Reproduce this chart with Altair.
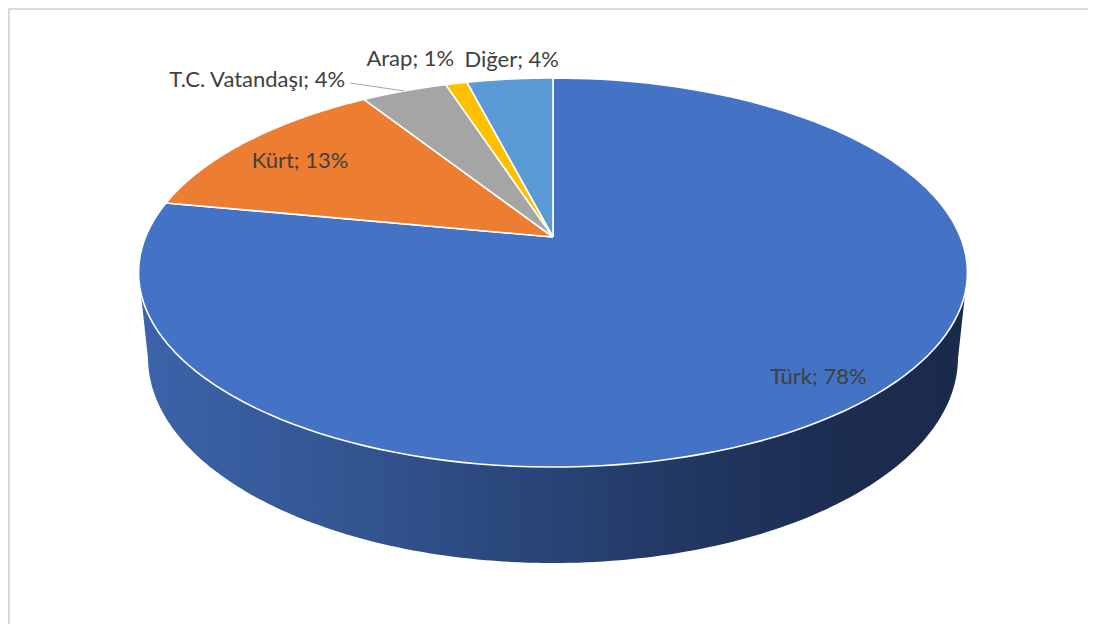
import altair as alt
import pandas as pd

# ---- data ----
categories = ["Türk", "Kürt", "T.C. Vatandaşı", "Arap", "Diğer"]
values = [78, 13, 4, 1, 4]
colors = ["#4472C4", "#ED7D31", "#A5A5A5", "#FFC000", "#5B9BD5"]
labels = ["Türk; 78%", "Kürt; 13%", "T.C. Vatandaşı; 4%", "Arap; 1%", "Diğer; 4%"]

# ---- style / 3-D view parameters ----
CX, CY = 553, 237            # pie centre on screen
F, D, S, C, H = 1979, 4.857, 0.4615, 0.8872, 0.2373   # focal, distance, sin/cos tilt, depth
N = 140                      # arc resolution
M = 160
W, HT = 1080, 616
FONT = "Lato"
FS = 22
TXT = "#404040"

df = pd.DataFrame({"cat": categories, "value": values, "label": labels,
                   "k": list(range(len(categories)))})

xs = alt.Scale(domain=[8, 8 + W], range=[0, W], nice=False, zero=False)
ys = alt.Scale(domain=[8, 8 + HT], range=[0, HT], nice=False, zero=False)


def proj(xe, ze, ye="0"):
    zc = f"({D} + (-({ye})*{S} + ({ze})*{C}))"
    sx = f"({CX} + ({xe})*{F}/{zc})"
    sy = f"({CY} - (({ye})*{C} + ({ze})*{S})*{F}/{zc})"
    return sx, sy


base = (alt.Chart(df)
        .transform_window(cum="sum(value)", sort=[alt.SortField("k")], frame=[None, 0])
        .transform_joinaggregate(total="sum(value)"))

# ---- side wall (front of the cylinder) ----
aR = f"(PI/2 + asin({C}/{D}))"
aL = f"(3*PI/2 - asin({C}/{D}))"
wt = f"(datum.i <= {M} ? datum.i/{M} : ({2*M+1} - datum.i)/{M})"
wa = f"({aR} + {wt}*({aL} - {aR}))"
wye = f"(datum.i <= {M} ? 0 : -{H})"
wsx, wsy = proj(f"sin({wa})", f"cos({wa})", wye)
wall = (base.transform_filter("datum.k == 0")
        .transform_calculate(pts=f"sequence(0, {2*M+2})")
        .transform_flatten(["pts"], as_=["i"])
        .transform_calculate(sx=wsx, sy=wsy)
        .mark_line(
            fill=alt.Gradient(gradient="linear", x1=0, x2=1, y1=0, y2=0,
                              stops=[alt.GradientStop(offset=0, color="#3C64AB"),
                                     alt.GradientStop(offset=0.3, color="#31528D"),
                                     alt.GradientStop(offset=0.6, color="#243C69"),
                                     alt.GradientStop(offset=0.85, color="#1B2C50"),
                                     alt.GradientStop(offset=1, color="#1A2A4C")]),
            stroke="transparent", strokeWidth=0)
        .encode(x=alt.X("sx:Q", scale=xs, axis=None),
                y=alt.Y("sy:Q", scale=ys, axis=None),
                order=alt.Order("i:Q")))

# ---- top face slices ----
rr = f"((datum.i == 0 || datum.i == {N+2}) ? 0 : 1)"
sa = f"(2*PI*((datum.cum - datum.value) + clamp(datum.i - 1, 0, {N})/{N}*datum.value)/datum.total)"
ssx, ssy = proj(f"{rr}*sin({sa})", f"{rr}*cos({sa})")
slices = (base
          .transform_calculate(pts=f"sequence(0, {N+3})")
          .transform_flatten(["pts"], as_=["i"])
          .transform_calculate(sx=ssx, sy=ssy)
          .mark_line(filled=True, stroke="white", strokeWidth=1.6, strokeJoin="round")
          .encode(x=alt.X("sx:Q", scale=xs, axis=None),
                  y=alt.Y("sy:Q", scale=ys, axis=None),
                  color=alt.Color("cat:N", scale=alt.Scale(domain=categories, range=colors),
                                  legend=None),
                  order=alt.Order("i:Q")))

# ---- labels ----
label_style = {
    "Türk": dict(r=0.89, align="center", dx=1, dy=-7),
    "Kürt": dict(r=0.81, align="center", dx=-1, dy=3),
    "T.C. Vatandaşı": dict(r=1.0, align="right", dx=-59, dy=-11),
    "Arap": dict(r=1.0, align="center", dx=-46, dy=-24),
    "Diğer": dict(r=1.0, align="center", dx=2, dy=-19),
}
ma = "(2*PI*(datum.cum - datum.value/2)/datum.total)"
layers = [wall, slices]
for cat, st in label_style.items():
    lsx, lsy = proj(f"{st['r']}*sin({ma})", f"{st['r']}*cos({ma})")
    layers.append(
        base.transform_filter(alt.datum.cat == cat)
        .transform_calculate(sx=lsx, sy=lsy)
        .mark_text(font=FONT, fontSize=FS, color=TXT, align=st["align"], baseline="middle",
                   dx=st["dx"], dy=st["dy"])
        .encode(x=alt.X("sx:Q", scale=xs, axis=None),
                y=alt.Y("sy:Q", scale=ys, axis=None),
                text="label:N"))

# leader line for T.C. Vatandaşı
esx, esy = proj(f"sin({ma})", f"cos({ma})")
leader = (base.transform_filter(alt.datum.cat == "T.C. Vatandaşı")
          .transform_calculate(sx=esx, sy=esy)
          .transform_calculate(sx2="datum.sx - 54", sy2="datum.sy - 8")
          .mark_rule(color="#A6A6A6", strokeWidth=1.2)
          .encode(x=alt.X("sx:Q", scale=xs, axis=None),
                  y=alt.Y("sy:Q", scale=ys, axis=None),
                  x2="sx2:Q", y2="sy2:Q"))
layers.append(leader)

# chart border (top and left edges visible)
one = pd.DataFrame({"b": [0]})
border_top = alt.Chart(one).mark_rule(color="#D9D9D9", strokeWidth=2).encode(
    x=alt.value(0), x2=alt.value(W), y=alt.value(1))
border_left = alt.Chart(one).mark_rule(color="#D9D9D9", strokeWidth=2).encode(
    x=alt.value(1), y=alt.value(0), y2=alt.value(HT))
layers += [border_top, border_left]

chart = (alt.layer(*layers)
         .properties(width=W, height=HT, padding=0,
                     autosize=alt.AutoSizeParams(type="none"),
                     background="white")
         .configure_view(strokeWidth=0))

chart.save("out.html", embed_options={"renderer": "svg", "actions": False})
